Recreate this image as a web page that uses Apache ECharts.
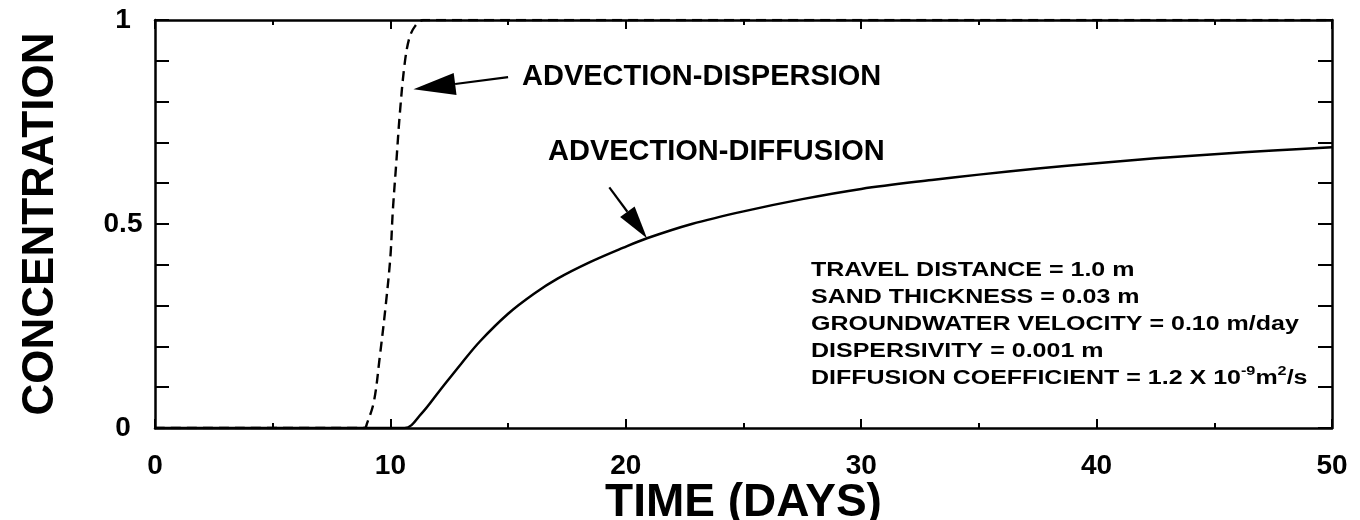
<!DOCTYPE html>
<html>
<head>
<meta charset="utf-8">
<style>
  html, body { margin: 0; padding: 0; background: #fff; }
  #chart { width: 1360px; height: 520px; }
</style>
<script src="https://cdn.jsdelivr.net/npm/echarts@6/dist/echarts.min.js"></script>
</head>
<body>
<div id="chart"></div>
<script>
// Breakthrough curves: relative concentration at the outlet vs. time
const dispersionTime = [0, 8.9, 9.0, 9.3, 9.55, 9.8, 10.0, 10.1, 10.25, 10.4, 10.6, 10.8, 11.05, 11.4, 12, 50];
const dispersionConc = [0, 0, 0.01, 0.065, 0.175, 0.3, 0.42, 0.53, 0.65, 0.77, 0.89, 0.955, 0.985, 1.0, 1.0, 1.0];

const diffusionTime = [0, 10.6, 11.3, 12.1, 13.0, 13.8, 15.0, 16.1, 17.1, 18.5, 19.9, 20.9, 22.8, 25, 27.5, 30, 33, 35, 37.5, 40, 42.5, 45, 47.5, 50];
const diffusionConc = [0, 0, 0.034, 0.092, 0.157, 0.212, 0.28, 0.329, 0.366, 0.407, 0.442, 0.465, 0.5, 0.531, 0.561, 0.586, 0.608, 0.621, 0.636, 0.649, 0.661, 0.671, 0.68, 0.688];

const curveLabels = ['ADVECTION-DISPERSION', 'ADVECTION-DIFFUSION'];
const parameterLines = [
  'TRAVEL DISTANCE = 1.0 m',
  'SAND THICKNESS = 0.03 m',
  'GROUNDWATER VELOCITY = 0.10 m/day',
  'DISPERSIVITY = 0.001 m',
  'DIFFUSION COEFFICIENT = 1.2 X 10{sup|-9}m{sup|2}/s'
];
// arrow tail -> tip, in (days, concentration)
const dispersionArrow = [[15.0, 0.86], [10.98, 0.83]];
const diffusionArrow = [[19.3, 0.59], [20.9, 0.465]];

const FONT = '"Liberation Sans", Arial, Helvetica, sans-serif';
const pairs = (xs, ys) => xs.map((x, i) => [x, ys[i]]);

const chart = echarts.init(document.getElementById('chart'));

function xAxisDef(pos, labels) {
  return {
    type: 'value', position: pos, min: 0, max: 50, interval: 10,
    axisLine: { show: true, onZero: false, lineStyle: { color: '#000', width: 2.5 } },
    axisTick: { show: true, inside: true, length: 9, lineStyle: { color: '#000', width: 2 } },
    minorTick: { show: true, splitNumber: 2, length: 5, lineStyle: { color: '#000', width: 2 } },
    splitLine: { show: false },
    axisLabel: { show: labels, color: '#000', fontFamily: FONT, fontWeight: 'bold', fontSize: 28, margin: 24 },
    name: labels ? 'TIME (DAYS)' : '',
    nameLocation: 'middle', nameGap: 52, nameMoveOverlap: false,
    nameTextStyle: { color: '#000', fontFamily: FONT, fontWeight: 'bold', fontSize: 46 }
  };
}
function yAxisDef(pos, labels) {
  return {
    type: 'value', position: pos, min: 0, max: 1, interval: 0.5,
    axisLine: { show: true, onZero: false, lineStyle: { color: '#000', width: 2.5 } },
    axisTick: { show: true, inside: true, length: 14, lineStyle: { color: '#000', width: 2 } },
    minorTick: { show: true, splitNumber: 5, length: 14, lineStyle: { color: '#000', width: 2 } },
    splitLine: { show: false },
    axisLabel: { show: labels, color: '#000', fontFamily: FONT, fontWeight: 'bold', fontSize: 28, margin: 32, align: 'center' },
    name: labels ? 'CONCENTRATION' : '',
    nameLocation: 'middle', nameGap: 92, nameRotate: 90, nameMoveOverlap: false,
    nameTextStyle: { color: '#000', fontFamily: FONT, fontWeight: 'bold', fontSize: 44 }
  };
}

chart.setOption({
  animation: false,
  backgroundColor: '#fff',
  grid: { left: 155, right: 28, top: 20, bottom: 92, containLabel: false, outerBoundsMode: 'none' },
  xAxis: [xAxisDef('bottom', true), xAxisDef('top', false)],
  yAxis: [yAxisDef('left', true), yAxisDef('right', false)],
  series: [
    {
      name: curveLabels[0], type: 'line', xAxisIndex: 0, yAxisIndex: 0,
      data: pairs(dispersionTime, dispersionConc),
      showSymbol: false, smooth: 0.35,
      lineStyle: { color: '#000', width: 2.4, type: [10, 6] }
    },
    {
      name: curveLabels[1], type: 'line', xAxisIndex: 0, yAxisIndex: 0,
      data: pairs(diffusionTime, diffusionConc),
      showSymbol: false, smooth: 0.35,
      lineStyle: { color: '#000', width: 2.5 }
    }
  ]
});

// Filled arrowhead annotations positioned through the chart's own scales
function arrowGraphic(arrow, headLen, headHalf) {
  const a = chart.convertToPixel({ xAxisIndex: 0, yAxisIndex: 0 }, arrow[0]);
  const b = chart.convertToPixel({ xAxisIndex: 0, yAxisIndex: 0 }, arrow[1]);
  const dx = b[0] - a[0], dy = b[1] - a[1];
  const len = Math.hypot(dx, dy);
  const ux = dx / len, uy = dy / len;
  const bx = b[0] - ux * headLen, by = b[1] - uy * headLen;
  return [
    { type: 'line', shape: { x1: a[0], y1: a[1], x2: bx, y2: by }, style: { stroke: '#000', lineWidth: 2.2 }, z: 100 },
    { type: 'polygon', shape: { points: [[b[0], b[1]], [bx - uy * headHalf, by + ux * headHalf], [bx + uy * headHalf, by - ux * headHalf]] }, style: { fill: '#000' }, z: 100 }
  ];
}

const graphics = [
  ...arrowGraphic(dispersionArrow, 42, 11),
  ...arrowGraphic(diffusionArrow, 33, 9),
  { type: 'text', x: 522, y: 77, z: 100, style: { text: curveLabels[0], fill: '#000', font: 'bold 29px ' + FONT, verticalAlign: 'middle' } },
  { type: 'text', x: 548, y: 152, z: 100, style: { text: curveLabels[1], fill: '#000', font: 'bold 29px ' + FONT, verticalAlign: 'middle' } },
  {
    type: 'text', x: 811, y: 257, z: 100, scaleX: 1.25,
    style: {
      text: parameterLines.join('\n'), fill: '#000', font: 'bold 20px ' + FONT, lineHeight: 27,
      rich: { sup: { fontSize: 13, fontWeight: 'bold', fontFamily: FONT, lineHeight: 12, verticalAlign: 'top', fill: '#000' } }
    }
  }
];
chart.setOption({ graphic: graphics });
</script>
</body>
</html>
